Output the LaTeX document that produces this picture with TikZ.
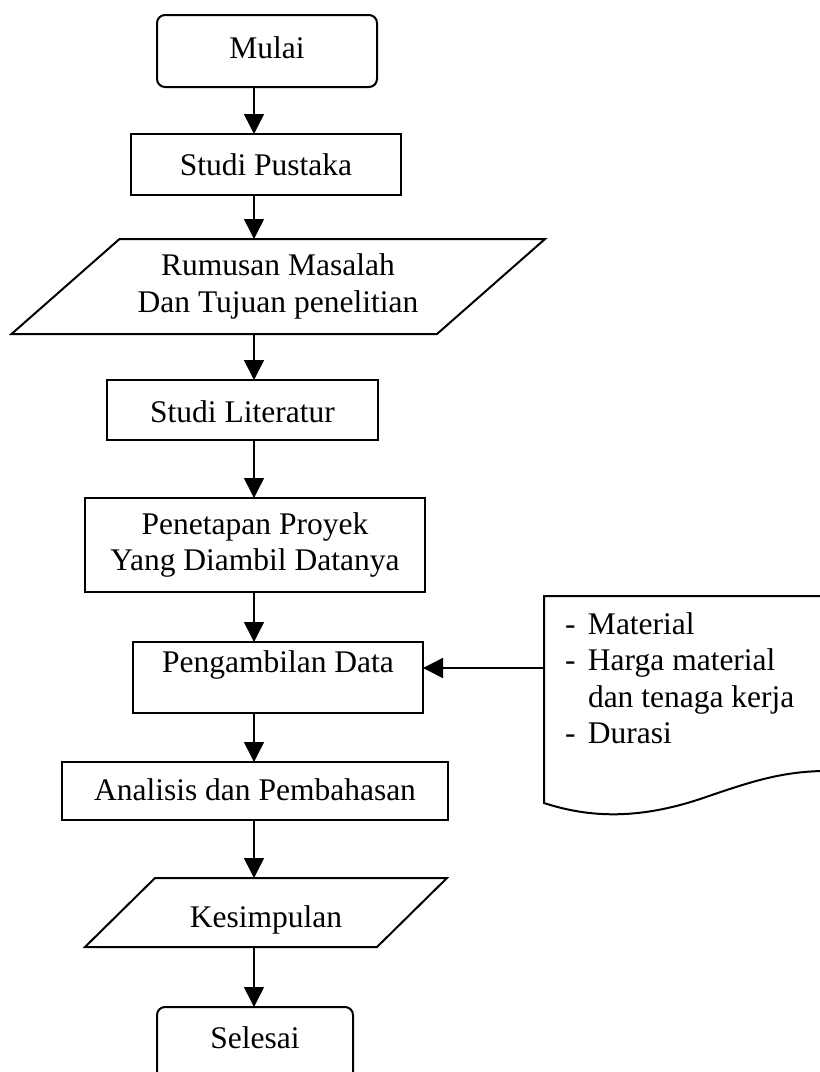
\documentclass[tikz,border=0pt]{standalone}
\usepackage{fontspec}
\setmainfont{Liberation Serif}
\usetikzlibrary{arrows.meta}
\begin{document}
\begin{tikzpicture}[x=1pt,y=-1pt,
  every node/.style={font=\fontsize{31.5}{36.5}\selectfont, inner sep=0pt, outer sep=0pt},
  box/.style={draw, line width=2pt, rectangle},
  rbox/.style={box, rounded corners=8pt},
  shapeline/.style={line width=2pt, line join=miter},
  arr/.style={line width=1.5pt, -{Triangle[width=20pt,length=20pt]}},
  plainbox/.style={rectangle}]
\useasboundingbox (0,0) rectangle (820,1072);
\coordinate (ax) at (254,0);

% nodes
\node[rbox, minimum width=220pt, minimum height=72pt, text height=22pt, text depth=8pt] (mulai) at (267,51) {Mulai};
\node[box, minimum width=270pt, minimum height=61pt, text height=22pt, text depth=1pt] (pus) at (266,164.5) {Studi Pustaka};
\node[plainbox, minimum width=300pt, minimum height=95pt, align=center] (rm) at (278,286.5) {Rumusan Masalah\\Dan Tujuan penelitian};
\draw[shapeline] (119.5,239) -- (545,239) -- (437,334) -- (11.5,334) -- cycle;
\node[box, minimum width=271pt, minimum height=60pt, text height=24pt, text depth=0pt] (lit) at (242.5,410) {Studi Literatur};
\node[box, minimum width=340pt, minimum height=94pt, align=center] (pen) at (255,545) {Penetapan Proyek\\Yang Diambil Datanya};
\node[box, minimum width=290pt, minimum height=71pt, text height=22pt, text depth=33pt] (pd) at (278,677.5) {Pengambilan Data\hspace{10pt}};
\node[box, minimum width=386pt, minimum height=58pt, text height=22pt, text depth=4pt] (ana) at (255,791) {Analisis dan Pembahasan\hspace{22pt}};
\node[plainbox, minimum width=220pt, minimum height=69pt, text height=29pt, text depth=0pt] (ks) at (266,912.5) {Kesimpulan};
\draw[shapeline] (155,878) -- (447,878) -- (377,947) -- (85,947) -- cycle;
\node[rbox, minimum width=196pt, minimum height=83pt, text height=22pt, text depth=23pt] (sel) at (255,1048.5) {Selesai};

% document shape
\draw[shapeline] (822,596) -- (544,596) -- (544,803)
  .. controls (590,818) and (640,820) .. (706,797)
  .. controls (750,782) and (780,772) .. (822,771);
\node[anchor=north west, align=left] (doc) at (565,612.5)
  {\makebox[23pt][l]{-}Material\\
   \makebox[23pt][l]{-}Harga material\\
   \makebox[23pt][l]{}dan tenaga kerja\\
   \makebox[23pt][l]{-}Durasi};
\coordinate (docL) at (544,668);

% connectors
\draw[arr] (mulai.south -| ax) -- (pus.north -| ax);
\draw[arr] (pus.south -| ax) -- (rm.north -| ax);
\draw[arr] (rm.south -| ax) -- (lit.north -| ax);
\draw[arr] (lit.south -| ax) -- (pen.north -| ax);
\draw[arr] (pen.south -| ax) -- (pd.north -| ax);
\draw[arr] (pd.south -| ax) -- (ana.north -| ax);
\draw[arr] (ana.south -| ax) -- (ks.north -| ax);
\draw[arr] (ks.south -| ax) -- (sel.north -| ax);
\draw[arr] (docL) -- (docL -| pd.east);
\end{tikzpicture}
\end{document}
